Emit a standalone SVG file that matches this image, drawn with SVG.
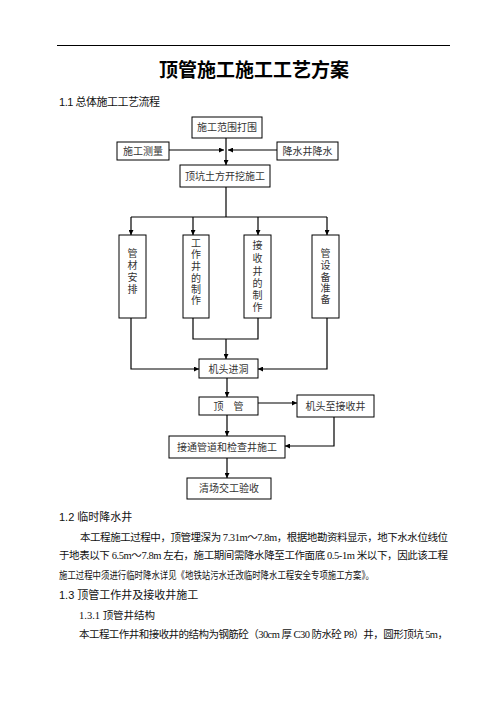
<svg xmlns="http://www.w3.org/2000/svg" width="496" height="702" viewBox="0 0 496 702">
<defs>
<marker id="ah" viewBox="0 0 10 10" refX="10" refY="5" markerWidth="5" markerHeight="5" orient="auto" markerUnits="userSpaceOnUse">
<path d="M0,0 L10,5 L0,10 z" fill="#000"/>
</marker>
<style>
.bx{fill:#fff;stroke:#000;stroke-width:1}
.bt{font-family:"Liberation Serif","Noto Sans CJK SC",serif;font-size:10px;fill:#333;text-anchor:middle}
.ln{fill:none;stroke:#000;stroke-width:1.2}
.ar{fill:none;stroke:#000;stroke-width:1.2;marker-end:url(#ah)}
.p{font-family:"Liberation Serif","Noto Sans CJK SC",serif;font-size:10.5px;fill:#111}
.h{font-family:"Liberation Sans","Noto Sans CJK SC",sans-serif;font-size:11px;fill:#111}
</style>
</defs>
<rect width="496" height="702" fill="#fff"/>
<line x1="57" y1="45.5" x2="450" y2="45.5" stroke="#000" stroke-width="1.2"/>
<text x="254" y="77" text-anchor="middle" font-family="'Noto Sans CJK SC',sans-serif" font-size="19" font-weight="bold" fill="#000">顶管施工施工工艺方案</text>
<text x="59" y="106" class="h" textLength="101" lengthAdjust="spacing">1.1 总体施工工艺流程</text>

<g id="connectors">
<path class="ar" d="M226,138 V165"/>
<path class="ar" d="M169,150 H224"/>
<path class="ar" d="M277,150 H228"/>
<path class="ln" d="M226,187 V217"/>
<path class="ln" d="M131,217 H327"/>
<path class="ar" d="M131,217 V235"/>
<path class="ar" d="M193,217 V235"/>
<path class="ar" d="M258,217 V235"/>
<path class="ar" d="M327,217 V235"/>
<path class="ln" d="M193,318 V339 H258 V318"/>
<path class="ar" d="M226,339 V359"/>
<path class="ar" d="M131,318 V369 H199"/>
<path class="ar" d="M327,318 V369 H258"/>
<path class="ar" d="M227,378 V397"/>
<path class="ar" d="M258,403 H297"/>
<path class="ar" d="M227,415 V436"/>
<path class="ar" d="M334,417 V446 H285"/>
<path class="ar" d="M227,458 V478"/>
</g>

<g id="n1"><rect class="bx" x="192" y="117" width="70" height="21"/><text class="bt" x="227" y="131">施工范围打围</text></g>
<g id="n2"><rect class="bx" x="117" y="142" width="52" height="18"/><text class="bt" x="143" y="155">施工测量</text></g>
<g id="n3"><rect class="bx" x="277" y="142" width="61" height="18"/><text class="bt" x="307.5" y="155">降水井降水</text></g>
<g id="n4"><rect class="bx" x="180" y="165" width="90" height="22"/><text class="bt" x="225" y="180">顶坑土方开挖施工</text></g>

<g id="n5"><rect class="bx" x="119" y="235" width="27" height="83"/>
<text class="bt"><tspan x="132.5" y="256.5">管</tspan><tspan x="132.5" y="268.5">材</tspan><tspan x="132.5" y="280.5">安</tspan><tspan x="132.5" y="292.5">排</tspan></text></g>
<g id="n6"><rect class="bx" x="183" y="235" width="26" height="83"/>
<text class="bt"><tspan x="196" y="246.5">工</tspan><tspan x="196" y="258">作</tspan><tspan x="196" y="270">井</tspan><tspan x="196" y="281.5">的</tspan><tspan x="196" y="292.5">制</tspan><tspan x="196" y="303.5">作</tspan></text></g>
<g id="n7"><rect class="bx" x="244" y="235" width="27" height="83"/>
<text class="bt"><tspan x="257.5" y="248.5">接</tspan><tspan x="257.5" y="262">收</tspan><tspan x="257.5" y="274.5">井</tspan><tspan x="257.5" y="286.5">的</tspan><tspan x="257.5" y="298.5">制</tspan><tspan x="257.5" y="310.5">作</tspan></text></g>
<g id="n8"><rect class="bx" x="312" y="235" width="27" height="83"/>
<text class="bt"><tspan x="325.5" y="256.5">管</tspan><tspan x="325.5" y="268.5">设</tspan><tspan x="325.5" y="281">备</tspan><tspan x="325.5" y="292">准</tspan><tspan x="325.5" y="303">备</tspan></text></g>

<g id="n9"><rect class="bx" x="199" y="359" width="59" height="19"/><text class="bt" x="228.5" y="372.5">机头进洞</text></g>
<g id="n10"><rect class="bx" x="199" y="397" width="59" height="18"/><text class="bt" x="228.5" y="410" xml:space="preserve">顶    管</text></g>
<g id="n11"><rect class="bx" x="297" y="395" width="77" height="22"/><text class="bt" x="335.5" y="409.5">机头至接收井</text></g>
<g id="n12"><rect class="bx" x="169" y="436" width="116" height="22"/><text class="bt" x="227" y="450.5">接通管道和检查井施工</text></g>
<g id="n13"><rect class="bx" x="187" y="478" width="84" height="21"/><text class="bt" x="229" y="492">清场交工验收</text></g>

<text x="59" y="521" class="h">1.2 临时降水井</text>
<text x="80" y="541" class="p" textLength="368" lengthAdjust="spacing">本工程施工过程中，顶管埋深为 7.31m～7.8m，根据地勘资料显示，地下水水位线位</text>
<text x="59" y="559" class="p" textLength="389" lengthAdjust="spacing">于地表以下 6.5m～7.8m 左右，施工期间需降水降至工作面底 0.5-1m 米以下，因此该工程</text>
<text x="59" y="579" class="p" textLength="315" lengthAdjust="spacingAndGlyphs">施工过程中须进行临时降水详见《地铁站污水迁改临时降水工程安全专项施工方案》。</text>
<text x="59" y="599" class="h">1.3 顶管工作井及接收井施工</text>
<text x="79" y="619" class="p" font-size="10">1.3.1 顶管井结构</text>
<text x="79" y="638" class="p" textLength="369" lengthAdjust="spacing">本工程工作井和接收井的结构为钢筋砼（30cm 厚 C30 防水砼 P8）井，圆形顶坑 5m，</text>
</svg>
